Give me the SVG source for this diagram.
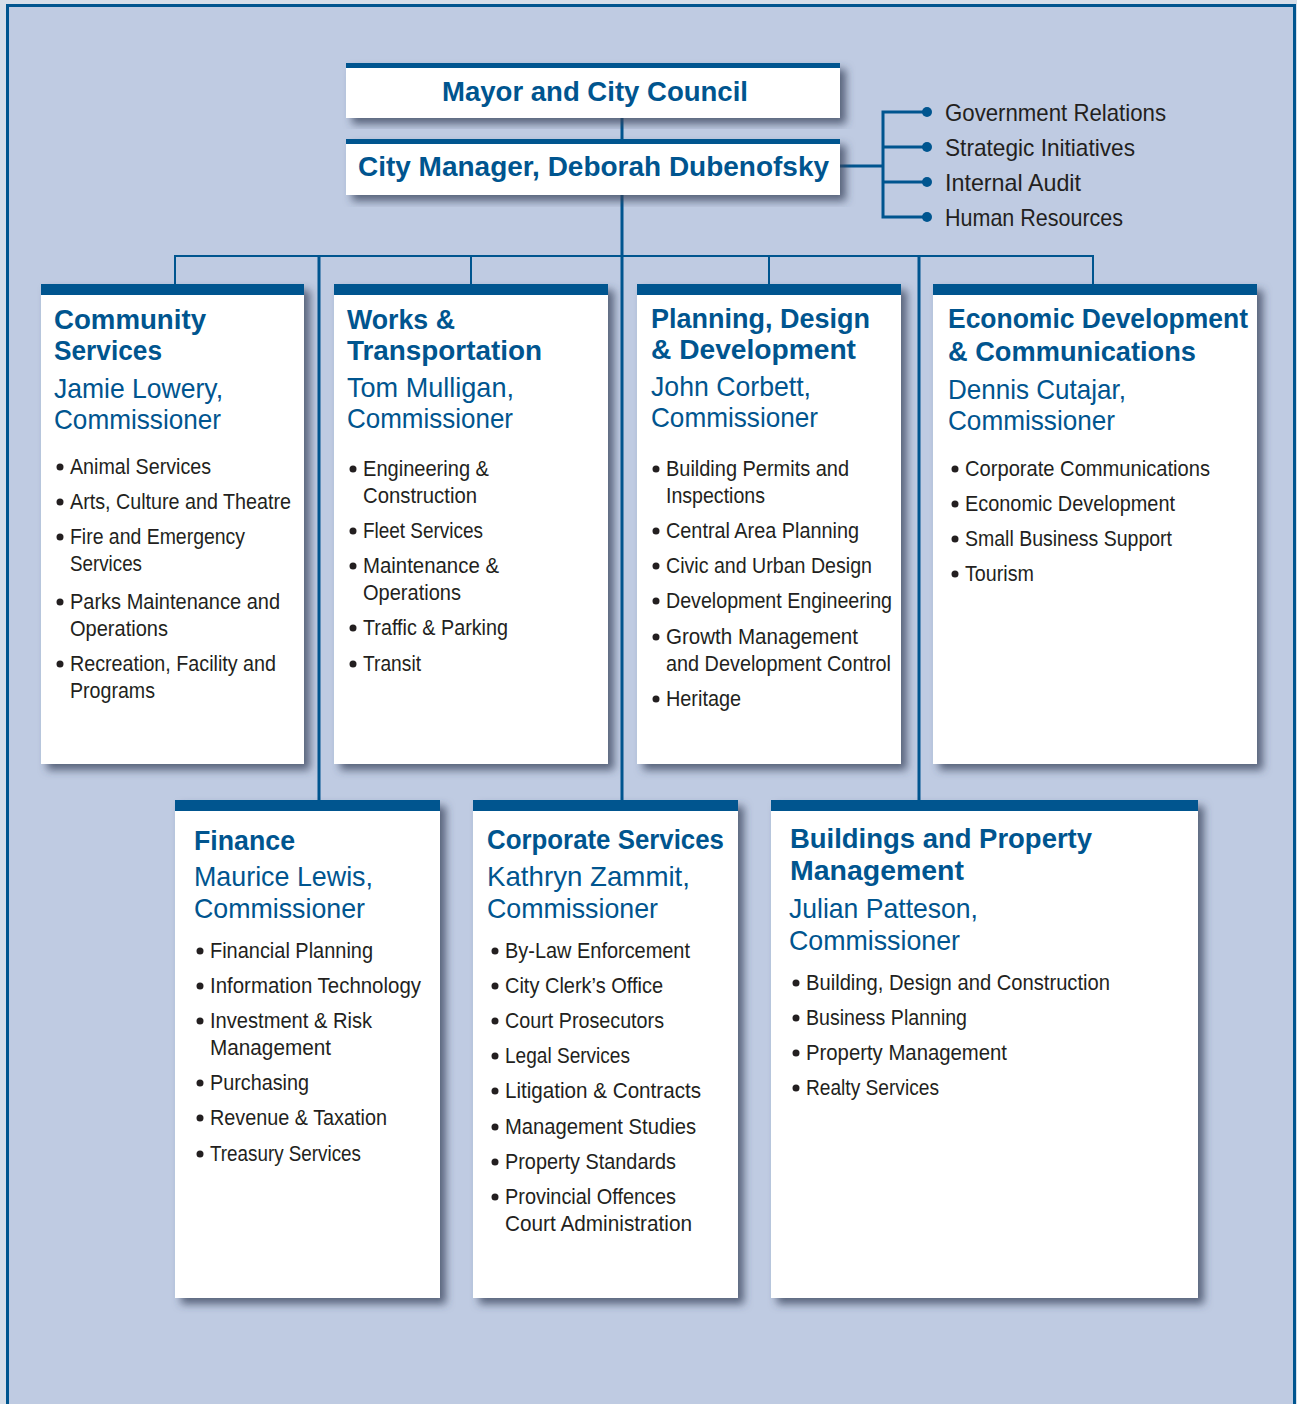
<svg xmlns="http://www.w3.org/2000/svg" width="1297" height="1404" viewBox="0 0 1297 1404">
<defs>
<filter id="sh" x="-10%" y="-10%" width="130%" height="130%">
<feDropShadow dx="6" dy="6" stdDeviation="4" flood-color="#36425a" flood-opacity="0.75"/>
</filter>
<style>
text{font-family:"Liberation Sans",Arial,sans-serif}
.t{font-weight:bold;font-size:28px;fill:#00558f}
.n{font-size:28px;fill:#00558f}
.b{font-size:22px;fill:#231f20}
.r{font-size:24px;fill:#231f20}
.box{fill:#ffffff;filter:url(#sh)}
.bar{fill:#00558f}
.c{stroke:#00558f;fill:none}
.dot{fill:#00558f}
.bd{fill:#231f20}
</style>
</defs>
<rect x="0" y="0" width="1297" height="1404" fill="#d6dee9"/>
<rect x="7.5" y="5.5" width="1287" height="1410" fill="#bfcbe2" stroke="#00558f" stroke-width="3"/>

<g id="connectors">
<line class="c" x1="622" y1="118" x2="622" y2="139" stroke-width="3"/>
<line class="c" x1="622" y1="195" x2="622" y2="800" stroke-width="3"/>
<line class="c" x1="175" y1="256" x2="1093" y2="256" stroke-width="2"/>
<line class="c" x1="175" y1="255" x2="175" y2="284" stroke-width="2"/>
<line class="c" x1="471" y1="255" x2="471" y2="284" stroke-width="2"/>
<line class="c" x1="769" y1="255" x2="769" y2="284" stroke-width="2"/>
<line class="c" x1="1093" y1="255" x2="1093" y2="284" stroke-width="2"/>
<line class="c" x1="319" y1="255" x2="319" y2="800" stroke-width="3"/>
<line class="c" x1="919" y1="255" x2="919" y2="800" stroke-width="3"/>
<line class="c" x1="840" y1="166" x2="883" y2="166" stroke-width="3"/>
<path class="c" d="M927 112 H883 V217 H927 M883 147 H927 M883 182 H927" stroke-width="3"/>
<circle class="dot" cx="927" cy="112" r="5"/>
<circle class="dot" cx="927" cy="147" r="5"/>
<circle class="dot" cx="927" cy="182" r="5"/>
<circle class="dot" cx="927" cy="217" r="5"/>
</g>

<g id="mayor">
<rect class="box" x="346" y="63" width="494" height="55"/>
<rect class="bar" x="346" y="63" width="494" height="5"/>
<text class="t" x="442" y="101" font-size="29" textLength="306" lengthAdjust="spacingAndGlyphs">Mayor and City Council</text>
</g>

<g id="manager">
<rect class="box" x="346" y="139" width="494" height="56"/>
<rect class="bar" x="346" y="139" width="494" height="5"/>
<text class="t" x="358" y="176" font-size="31" textLength="471" lengthAdjust="spacingAndGlyphs">City Manager, Deborah Dubenofsky</text>
</g>

<g id="staff">
<text class="r" x="945" y="121" textLength="221" lengthAdjust="spacingAndGlyphs">Government Relations</text>
<text class="r" x="945" y="156" textLength="190" lengthAdjust="spacingAndGlyphs">Strategic Initiatives</text>
<text class="r" x="945" y="191" textLength="136" lengthAdjust="spacingAndGlyphs">Internal Audit</text>
<text class="r" x="945" y="226" textLength="178" lengthAdjust="spacingAndGlyphs">Human Resources</text>
</g>

<g id="community">
<rect class="box" x="41" y="284" width="263" height="480"/>
<rect class="bar" x="41" y="284" width="263" height="11"/>
<text class="t" x="54" y="329" textLength="152" lengthAdjust="spacingAndGlyphs">Community</text>
<text class="t" x="54" y="360" textLength="108" lengthAdjust="spacingAndGlyphs">Services</text>
<text class="n" x="54" y="398" textLength="169" lengthAdjust="spacingAndGlyphs">Jamie Lowery,</text>
<text class="n" x="54" y="429" textLength="167" lengthAdjust="spacingAndGlyphs">Commissioner</text>
<g class="bd"><circle cx="60" cy="467" r="3.5"/><circle cx="60" cy="502" r="3.5"/><circle cx="60" cy="537" r="3.5"/><circle cx="60" cy="602" r="3.5"/><circle cx="60" cy="664" r="3.5"/></g>
<text class="b" x="70" y="474" textLength="141" lengthAdjust="spacingAndGlyphs">Animal Services</text>
<text class="b" x="70" y="509" textLength="221" lengthAdjust="spacingAndGlyphs">Arts, Culture and Theatre</text>
<text class="b" x="70" y="544" textLength="175" lengthAdjust="spacingAndGlyphs">Fire and Emergency</text>
<text class="b" x="70" y="571" textLength="72" lengthAdjust="spacingAndGlyphs">Services</text>
<text class="b" x="70" y="609" textLength="210" lengthAdjust="spacingAndGlyphs">Parks Maintenance and</text>
<text class="b" x="70" y="636" textLength="98" lengthAdjust="spacingAndGlyphs">Operations</text>
<text class="b" x="70" y="671" textLength="206" lengthAdjust="spacingAndGlyphs">Recreation, Facility and</text>
<text class="b" x="70" y="698" textLength="85" lengthAdjust="spacingAndGlyphs">Programs</text>
</g>

<g id="works">
<rect class="box" x="334" y="284" width="274" height="480"/>
<rect class="bar" x="334" y="284" width="274" height="11"/>
<text class="t" x="347" y="329" textLength="108" lengthAdjust="spacingAndGlyphs">Works &amp;</text>
<text class="t" x="347" y="360" textLength="195" lengthAdjust="spacingAndGlyphs">Transportation</text>
<text class="n" x="347" y="397" textLength="167" lengthAdjust="spacingAndGlyphs">Tom Mulligan,</text>
<text class="n" x="347" y="428" textLength="166" lengthAdjust="spacingAndGlyphs">Commissioner</text>
<g class="bd"><circle cx="353" cy="469" r="3.5"/><circle cx="353" cy="531" r="3.5"/><circle cx="353" cy="566" r="3.5"/><circle cx="353" cy="628" r="3.5"/><circle cx="353" cy="664" r="3.5"/></g>
<text class="b" x="363" y="476" textLength="126" lengthAdjust="spacingAndGlyphs">Engineering &amp;</text>
<text class="b" x="363" y="503" textLength="114" lengthAdjust="spacingAndGlyphs">Construction</text>
<text class="b" x="363" y="538" textLength="120" lengthAdjust="spacingAndGlyphs">Fleet Services</text>
<text class="b" x="363" y="573" textLength="136" lengthAdjust="spacingAndGlyphs">Maintenance &amp;</text>
<text class="b" x="363" y="600" textLength="98" lengthAdjust="spacingAndGlyphs">Operations</text>
<text class="b" x="363" y="635" textLength="145" lengthAdjust="spacingAndGlyphs">Traffic &amp; Parking</text>
<text class="b" x="363" y="671" textLength="58" lengthAdjust="spacingAndGlyphs">Transit</text>
</g>

<g id="planning">
<rect class="box" x="637" y="284" width="264" height="480"/>
<rect class="bar" x="637" y="284" width="264" height="11"/>
<text class="t" x="651" y="328" textLength="219" lengthAdjust="spacingAndGlyphs">Planning, Design</text>
<text class="t" x="651" y="359" textLength="205" lengthAdjust="spacingAndGlyphs">&amp; Development</text>
<text class="n" x="651" y="396" textLength="160" lengthAdjust="spacingAndGlyphs">John Corbett,</text>
<text class="n" x="651" y="427" textLength="167" lengthAdjust="spacingAndGlyphs">Commissioner</text>
<g class="bd"><circle cx="656" cy="469" r="3.5"/><circle cx="656" cy="531" r="3.5"/><circle cx="656" cy="566" r="3.5"/><circle cx="656" cy="601" r="3.5"/><circle cx="656" cy="637" r="3.5"/><circle cx="656" cy="699" r="3.5"/></g>
<text class="b" x="666" y="476" textLength="183" lengthAdjust="spacingAndGlyphs">Building Permits and</text>
<text class="b" x="666" y="503" textLength="99" lengthAdjust="spacingAndGlyphs">Inspections</text>
<text class="b" x="666" y="538" textLength="193" lengthAdjust="spacingAndGlyphs">Central Area Planning</text>
<text class="b" x="666" y="573" textLength="206" lengthAdjust="spacingAndGlyphs">Civic and Urban Design</text>
<text class="b" x="666" y="608" textLength="226" lengthAdjust="spacingAndGlyphs">Development Engineering</text>
<text class="b" x="666" y="644" textLength="192" lengthAdjust="spacingAndGlyphs">Growth Management</text>
<text class="b" x="666" y="671" textLength="225" lengthAdjust="spacingAndGlyphs">and Development Control</text>
<text class="b" x="666" y="706" textLength="75" lengthAdjust="spacingAndGlyphs">Heritage</text>
</g>

<g id="economic">
<rect class="box" x="933" y="284" width="324" height="480"/>
<rect class="bar" x="933" y="284" width="324" height="11"/>
<text class="t" x="948" y="328" textLength="300" lengthAdjust="spacingAndGlyphs">Economic Development</text>
<text class="t" x="948" y="361" textLength="248" lengthAdjust="spacingAndGlyphs">&amp; Communications</text>
<text class="n" x="948" y="399" textLength="178" lengthAdjust="spacingAndGlyphs">Dennis Cutajar,</text>
<text class="n" x="948" y="430" textLength="167" lengthAdjust="spacingAndGlyphs">Commissioner</text>
<g class="bd"><circle cx="955" cy="469" r="3.5"/><circle cx="955" cy="504" r="3.5"/><circle cx="955" cy="539" r="3.5"/><circle cx="955" cy="574" r="3.5"/></g>
<text class="b" x="965" y="476" textLength="245" lengthAdjust="spacingAndGlyphs">Corporate Communications</text>
<text class="b" x="965" y="511" textLength="210" lengthAdjust="spacingAndGlyphs">Economic Development</text>
<text class="b" x="965" y="546" textLength="207" lengthAdjust="spacingAndGlyphs">Small Business Support</text>
<text class="b" x="965" y="581" textLength="69" lengthAdjust="spacingAndGlyphs">Tourism</text>
</g>

<g id="finance">
<rect class="box" x="175" y="800" width="265" height="498"/>
<rect class="bar" x="175" y="800" width="265" height="11"/>
<text class="t" x="194" y="850" textLength="101" lengthAdjust="spacingAndGlyphs">Finance</text>
<text class="n" x="194" y="886" textLength="179" lengthAdjust="spacingAndGlyphs">Maurice Lewis,</text>
<text class="n" x="194" y="918" textLength="171" lengthAdjust="spacingAndGlyphs">Commissioner</text>
<g class="bd"><circle cx="200" cy="951" r="3.5"/><circle cx="200" cy="986" r="3.5"/><circle cx="200" cy="1021" r="3.5"/><circle cx="200" cy="1083" r="3.5"/><circle cx="200" cy="1118" r="3.5"/><circle cx="200" cy="1154" r="3.5"/></g>
<text class="b" x="210" y="958" textLength="163" lengthAdjust="spacingAndGlyphs">Financial Planning</text>
<text class="b" x="210" y="993" textLength="211" lengthAdjust="spacingAndGlyphs">Information Technology</text>
<text class="b" x="210" y="1028" textLength="162" lengthAdjust="spacingAndGlyphs">Investment &amp; Risk</text>
<text class="b" x="210" y="1055" textLength="121" lengthAdjust="spacingAndGlyphs">Management</text>
<text class="b" x="210" y="1090" textLength="99" lengthAdjust="spacingAndGlyphs">Purchasing</text>
<text class="b" x="210" y="1125" textLength="177" lengthAdjust="spacingAndGlyphs">Revenue &amp; Taxation</text>
<text class="b" x="210" y="1161" textLength="151" lengthAdjust="spacingAndGlyphs">Treasury Services</text>
</g>

<g id="corporate">
<rect class="box" x="473" y="800" width="265" height="498"/>
<rect class="bar" x="473" y="800" width="265" height="11"/>
<text class="t" x="487" y="849" textLength="237" lengthAdjust="spacingAndGlyphs">Corporate Services</text>
<text class="n" x="487" y="886" textLength="203" lengthAdjust="spacingAndGlyphs">Kathryn Zammit,</text>
<text class="n" x="487" y="918" textLength="171" lengthAdjust="spacingAndGlyphs">Commissioner</text>
<g class="bd"><circle cx="495" cy="951" r="3.5"/><circle cx="495" cy="986" r="3.5"/><circle cx="495" cy="1021" r="3.5"/><circle cx="495" cy="1056" r="3.5"/><circle cx="495" cy="1091" r="3.5"/><circle cx="495" cy="1127" r="3.5"/><circle cx="495" cy="1162" r="3.5"/><circle cx="495" cy="1197" r="3.5"/></g>
<text class="b" x="505" y="958" textLength="185" lengthAdjust="spacingAndGlyphs">By-Law Enforcement</text>
<text class="b" x="505" y="993" textLength="158" lengthAdjust="spacingAndGlyphs">City Clerk’s Office</text>
<text class="b" x="505" y="1028" textLength="159" lengthAdjust="spacingAndGlyphs">Court Prosecutors</text>
<text class="b" x="505" y="1063" textLength="125" lengthAdjust="spacingAndGlyphs">Legal Services</text>
<text class="b" x="505" y="1098" textLength="196" lengthAdjust="spacingAndGlyphs">Litigation &amp; Contracts</text>
<text class="b" x="505" y="1134" textLength="191" lengthAdjust="spacingAndGlyphs">Management Studies</text>
<text class="b" x="505" y="1169" textLength="171" lengthAdjust="spacingAndGlyphs">Property Standards</text>
<text class="b" x="505" y="1204" textLength="171" lengthAdjust="spacingAndGlyphs">Provincial Offences</text>
<text class="b" x="505" y="1231" textLength="187" lengthAdjust="spacingAndGlyphs">Court Administration</text>
</g>

<g id="buildings">
<rect class="box" x="771" y="800" width="427" height="498"/>
<rect class="bar" x="771" y="800" width="427" height="11"/>
<text class="t" x="790" y="848" textLength="302" lengthAdjust="spacingAndGlyphs">Buildings and Property</text>
<text class="t" x="790" y="880" textLength="174" lengthAdjust="spacingAndGlyphs">Management</text>
<text class="n" x="789" y="918" textLength="189" lengthAdjust="spacingAndGlyphs">Julian Patteson,</text>
<text class="n" x="789" y="950" textLength="171" lengthAdjust="spacingAndGlyphs">Commissioner</text>
<g class="bd"><circle cx="796" cy="983" r="3.5"/><circle cx="796" cy="1018" r="3.5"/><circle cx="796" cy="1053" r="3.5"/><circle cx="796" cy="1088" r="3.5"/></g>
<text class="b" x="806" y="990" textLength="304" lengthAdjust="spacingAndGlyphs">Building, Design and Construction</text>
<text class="b" x="806" y="1025" textLength="161" lengthAdjust="spacingAndGlyphs">Business Planning</text>
<text class="b" x="806" y="1060" textLength="201" lengthAdjust="spacingAndGlyphs">Property Management</text>
<text class="b" x="806" y="1095" textLength="133" lengthAdjust="spacingAndGlyphs">Realty Services</text>
</g>
</svg>
